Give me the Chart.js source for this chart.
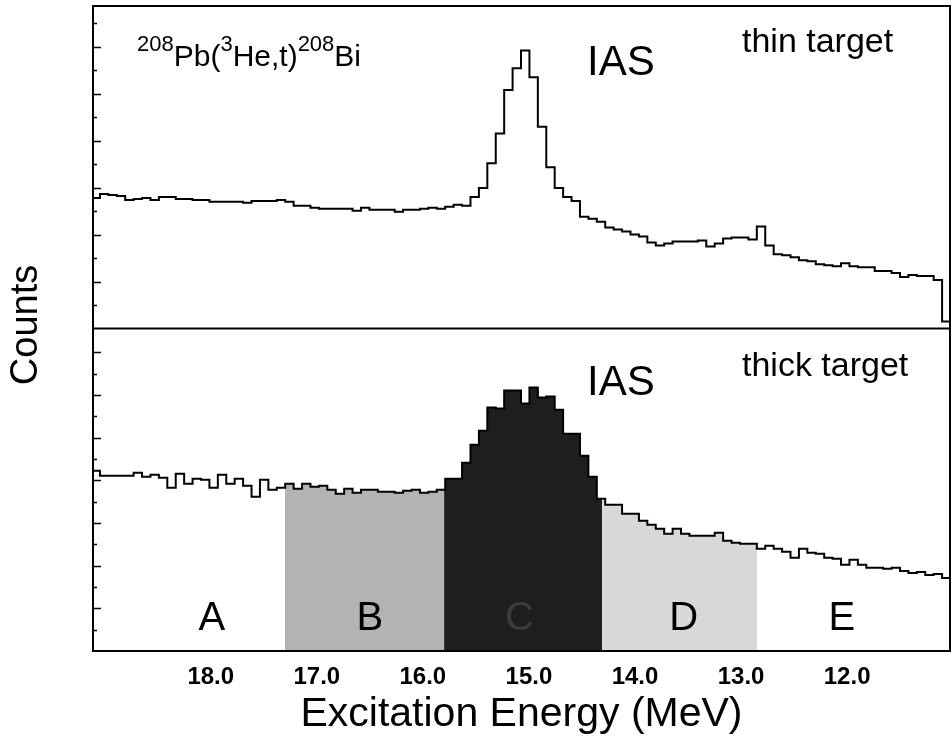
<!DOCTYPE html>
<html>
<head>
<meta charset="utf-8">
<title>208Pb(3He,t)208Bi - thin / thick target</title>
<script src="https://cdn.jsdelivr.net/npm/chart.js@4.4.1/dist/chart.umd.min.js"></script>
<style>
  html, body { margin: 0; padding: 0; background: #ffffff; }
  #grafico { display: block; }
</style>
</head>
<body>
<canvas id="grafico" width="951" height="745"></canvas>
<script>
// Histogram bins: upper energy edge of the first bin and bin width (MeV)
const binStart = 19.124;
const binWidth = 0.0794;

// Counts per bin (arbitrary units), from high to low excitation energy
const thinCounts = [
    132, 136, 135, 134, 130, 131, 132, 130, 133, 133,
    131, 131, 130, 130, 128, 128, 128, 128, 127, 129,
    129, 129, 130, 128, 124, 124, 122, 121, 121, 121,
    121, 119, 122, 120, 120, 120, 118, 120, 120, 121,
    122, 121, 123, 125, 124, 133, 142, 167, 197, 241,
    263, 281, 254, 204, 163, 142, 133, 129, 113, 111,
    108, 102, 100, 98, 95, 93, 87, 84, 86, 88,
    88, 88, 89, 83, 86, 91, 92, 92, 90, 103,
    84, 75, 74, 72, 69, 68, 65, 64, 63, 66,
    63, 62, 62, 58, 58, 56, 52, 54, 53, 53,
    49, 7
];

const thickCounts = [
    180, 175, 175, 175, 175, 178, 174, 176, 173, 163,
    177, 167, 172, 171, 163, 176, 167, 172, 165, 154,
    171, 161, 163, 167, 162, 167, 164, 165, 161, 157,
    162, 158, 161, 161, 159, 159, 158, 160, 161, 158,
    159, 161, 172, 172, 188, 206, 220, 243, 242, 260,
    260, 247, 263, 253, 254, 241, 217, 217, 195, 174,
    152, 146, 146, 137, 137, 130, 126, 122, 117, 122,
    117, 115, 115, 115, 118, 110, 108, 107, 107, 102,
    105, 102, 99, 93, 102, 98, 97, 93, 92, 86,
    91, 86, 83, 83, 82, 83, 80, 78, 79, 76,
    77, 73
];

// Gates on the thick-target spectrum (MeV, high to low)
const regionNames = ['A', 'B', 'C', 'D', 'E'];
const regionEdges = [19.11, 17.30, 15.80, 14.31, 12.85, 11.03];
const regionLabelE = [17.99, 16.50, 15.09, 13.54, 12.05];

// Axis ticks
const xTicks = [18, 17, 16, 15, 14, 13, 12];
const thinMajor = [47.5, 95, 142.5, 190, 237.5, 285];
const thinMinor = [23.75, 71.25, 118.75, 166.25, 213.75, 261.25, 308.75];
const thickMajor = [42.6, 85.2, 127.8, 170.4, 213, 255.6, 298.2];
const thickMinor = [21.3, 63.9, 106.5, 149.1, 191.7, 234.3, 276.9];

// Styles
const fuente = 'Liberation Sans, Arial, Helvetica, sans-serif';
const rellenos = [null, '#b3b3b3', '#1e1e1e', '#d8d8d8', null];

Chart.defaults.font.family = fuente;
Chart.defaults.color = '#000000';

// Histogram as stepped points at bin edges
function puntosHistograma(valores) {
    const pts = valores.map((v, j) => ({ x: binStart - binWidth * j, y: v }));
    pts.push({ x: binStart - binWidth * valores.length, y: valores[valores.length - 1] });
    return pts;
}

// Part of the histogram between two energies (hi > lo)
function puntosRegion(valores, hi, lo) {
    const pts = [];
    valores.forEach((v, j) => {
        const arriba = binStart - binWidth * j;
        const abajo = arriba - binWidth;
        if (abajo >= hi || arriba <= lo) return;
        pts.push({ x: Math.min(arriba, hi), y: v });
    });
    pts.push({ x: lo, y: pts[pts.length - 1].y });
    return pts;
}

const datasets = [
    {
        data: puntosHistograma(thinCounts), yAxisID: 'yTop',
        borderColor: '#000', borderWidth: 2, stepped: true, fill: false, pointRadius: 0
    },
    {
        data: puntosHistograma(thickCounts), yAxisID: 'yBot',
        borderColor: '#000', borderWidth: 2, stepped: true, fill: false, pointRadius: 0
    }
];

regionNames.forEach((nombre, i) => {
    if (!rellenos[i]) return;
    datasets.push({
        label: nombre,
        data: puntosRegion(thickCounts, regionEdges[i], regionEdges[i + 1]),
        yAxisID: 'yBot', stepped: true, borderWidth: 0, pointRadius: 0,
        backgroundColor: rellenos[i], fill: 'origin'
    });
});

function dibujarTicks(ctx, escala, valores, largo) {
    valores.forEach(v => {
        const y = Math.round(escala.getPixelForValue(v)) + 0.5;
        ctx.beginPath();
        ctx.moveTo(escala.right, y);
        ctx.lineTo(escala.right + largo, y);
        ctx.stroke();
    });
}

// Frame, inward ticks and annotations
const marcoYTextos = {
    id: 'marcoYTextos',
    afterDraw(chart) {
        const { ctx, chartArea: area, scales } = chart;
        const { x, yTop, yBot } = scales;
        ctx.save();

        ctx.strokeStyle = '#000';
        ctx.lineWidth = 1.5;
        dibujarTicks(ctx, yTop, thinMajor, 8);
        dibujarTicks(ctx, yTop, thinMinor, 4);
        dibujarTicks(ctx, yBot, thickMajor, 8);
        dibujarTicks(ctx, yBot, thickMinor, 4);

        ctx.lineWidth = 2;
        ctx.strokeRect(area.left, area.top, area.right - area.left, area.bottom - area.top);
        ctx.beginPath();
        ctx.moveTo(area.left, yTop.bottom);
        ctx.lineTo(area.right, yTop.bottom);
        ctx.stroke();

        ctx.fillStyle = '#000';
        ctx.textBaseline = 'alphabetic';

        // reaction with superscripts
        const partes = [['208', true], ['Pb(', false], ['3', true], ['He,t)', false], ['208', true], ['Bi', false]];
        let px = 137;
        partes.forEach(([txt, sup]) => {
            ctx.font = sup ? `22px ${fuente}` : `30px ${fuente}`;
            ctx.fillText(txt, px, sup ? 51 : 66);
            px += ctx.measureText(txt).width;
        });

        ctx.font = `42px ${fuente}`;
        ctx.textAlign = 'left';
        ctx.fillText('IAS', 587, 75);
        ctx.fillText('IAS', 587, 395);

        ctx.font = `34px ${fuente}`;
        ctx.fillText('thin target', 742, 52);
        ctx.fillText('thick target', 742, 376);

        ctx.font = `40px ${fuente}`;
        ctx.textAlign = 'center';
        regionNames.forEach((nombre, i) => {
            ctx.fillStyle = nombre === 'C' ? '#3c3c3c' : '#000';
            ctx.fillText(nombre, x.getPixelForValue(regionLabelE[i]), 630);
        });

        ctx.fillStyle = '#000';
        ctx.font = `38px ${fuente}`;
        ctx.translate(27, 325);
        ctx.rotate(-Math.PI / 2);
        ctx.textBaseline = 'middle';
        ctx.fillText('Counts', 0, 0);

        ctx.restore();
    }
};

new Chart(document.getElementById('grafico'), {
    type: 'line',
    data: { datasets: datasets },
    options: {
        responsive: false,
        animation: false,
        devicePixelRatio: 1,
        layout: { padding: { top: 6, right: 1, left: 0, bottom: 0 } },
        plugins: {
            legend: { display: false },
            tooltip: { enabled: false }
        },
        elements: { line: { tension: 0 } },
        scales: {
            x: {
                type: 'linear',
                reverse: true,
                min: 11.03,
                max: 19.11,
                grid: { display: false, drawTicks: false },
                border: { display: false },
                afterBuildTicks: s => { s.ticks = xTicks.map(v => ({ value: v })); },
                afterFit: s => { s.height = 94; },
                ticks: {
                    autoSkip: false,
                    maxRotation: 0,
                    padding: 12,
                    font: { size: 24, weight: 'bold' },
                    callback: v => Number(v).toFixed(1)
                },
                title: {
                    display: true,
                    text: 'Excitation Energy (MeV)',
                    font: { size: 41 },
                    padding: { top: 0, bottom: 6 }
                }
            },
            // later stacked axis is placed on top
            yBot: {
                type: 'linear',
                position: 'left',
                stack: 'paneles',
                stackWeight: 1,
                min: 0,
                max: 322,
                grid: { display: false },
                border: { display: false },
                ticks: { display: false },
                afterFit: s => { s.width = 93; }
            },
            yTop: {
                type: 'linear',
                position: 'left',
                stack: 'paneles',
                stackWeight: 1,
                min: 0,
                max: 326,
                grid: { display: false },
                border: { display: false },
                ticks: { display: false },
                afterFit: s => { s.width = 93; }
            }
        }
    },
    plugins: [marcoYTextos]
});
</script>
</body>
</html>
